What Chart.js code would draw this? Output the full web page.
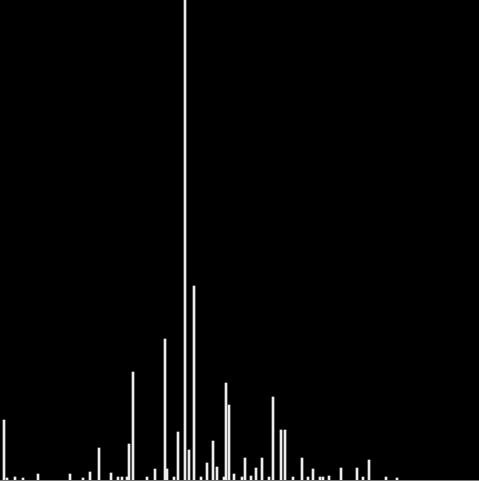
<!DOCTYPE html>
<html>
<head>
<meta charset="utf-8">
<script src="https://cdn.jsdelivr.net/npm/chart.js@4"></script>
<style>
    html, body { margin: 0; padding: 0; background: #000; }
    #wrap { width: 479px; height: 480px; position: relative; border-bottom: 1px solid #777; }
</style>
</head>
<body>
<div id="wrap"><canvas id="specChart"></canvas></div>
<script>
// peak positions (channel) and intensities
const positions = [4, 7, 15, 23, 38, 70, 83, 90, 99, 111, 118, 122, 127, 129, 133, 147, 155, 165, 167,
    174, 178, 185, 189, 194, 201, 207, 213, 217, 224, 226, 229, 234, 242, 245, 251, 256, 262, 269,
    273, 281, 285, 293, 302, 308, 313, 320, 323, 329, 341, 357, 363, 369, 386, 397];
const intensities = [60, 2, 3, 2, 6, 6, 2, 8, 32, 7, 3, 3, 3, 36, 108, 3, 11, 141, 11,
    3, 48, 480, 30, 194, 3, 17, 39, 13, 3, 97, 75, 6, 3, 22, 4, 12, 22, 3,
    83, 50, 50, 3, 22, 3, 11, 3, 3, 4, 12, 12, 3, 20, 3, 2];
const xRange = [0, 479];
const yRange = [0, 480];

document.addEventListener('DOMContentLoaded', () => {
    const points = positions.map((p, i) => ({ x: p, y: intensities[i] }));
    const ctx = document.getElementById('specChart').getContext('2d');

    new Chart(ctx, {
        type: 'bar',
        data: {
            datasets: [{
                data: points,
                backgroundColor: '#ececec',
                borderWidth: 0,
                barThickness: 2
            }]
        },
        options: {
            responsive: true,
            maintainAspectRatio: false,
            animation: false,
            layout: { padding: 0 },
            scales: {
                x: {
                    type: 'linear',
                    display: false,
                    offset: false,
                    min: xRange[0],
                    max: xRange[1]
                },
                y: {
                    display: false,
                    min: yRange[0],
                    max: yRange[1]
                }
            },
            plugins: {
                legend: { display: false },
                tooltip: { enabled: false }
            }
        }
    });
});
</script>
</body>
</html>
